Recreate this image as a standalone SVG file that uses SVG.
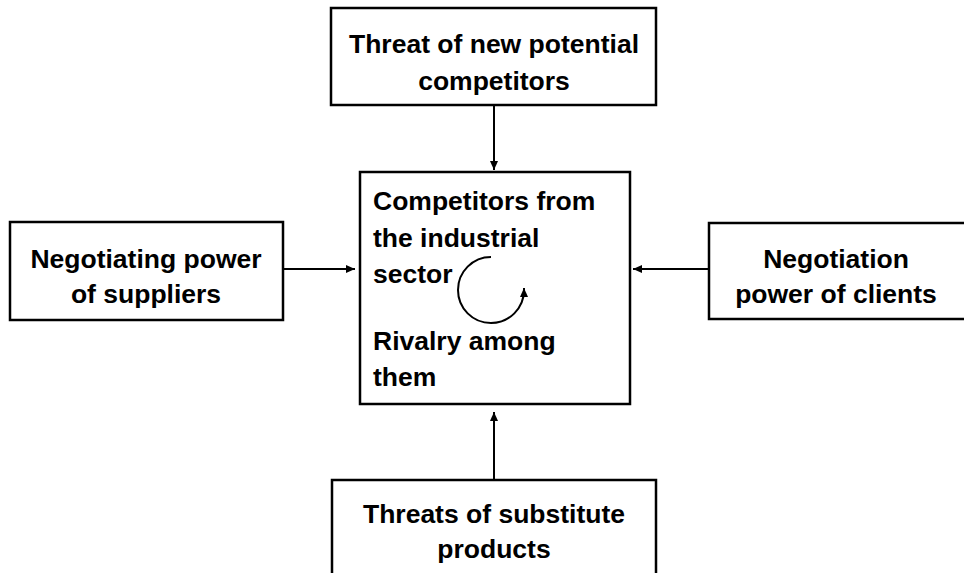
<svg xmlns="http://www.w3.org/2000/svg" width="964" height="573" viewBox="0 0 964 573">
  <style>
    .box { fill: #ffffff; stroke: #000000; stroke-width: 2.5; }
    .lbl { font-family: "Liberation Sans", Arial, sans-serif; font-weight: bold; font-size: 26.5px; fill: #000000; }
    .mid { text-anchor: middle; }
    .conn { stroke: #000000; stroke-width: 2; fill: none; }
  </style>
  <defs>
    <marker id="arrow" viewBox="0 0 10 10" refX="10" refY="5" markerWidth="9" markerHeight="8" markerUnits="userSpaceOnUse" orient="auto" preserveAspectRatio="none">
      <path d="M0,0 L10,5 L0,10 z" fill="#000000"/>
    </marker>
  </defs>
  <rect width="964" height="573" fill="#ffffff"/>

  <!-- straight connectors from the four outer forces to the centre box -->
  <g id="connectors">
    <line class="conn" x1="494" y1="105" x2="494" y2="170" marker-end="url(#arrow)"/>
    <line class="conn" x1="283" y1="269" x2="355" y2="269" marker-end="url(#arrow)"/>
    <line class="conn" x1="709" y1="269" x2="633" y2="269" marker-end="url(#arrow)"/>
    <line class="conn" x1="494" y1="480" x2="494" y2="412" marker-end="url(#arrow)"/>
  </g>

  <g id="new-entrants">
    <rect class="box" x="331" y="8" width="325" height="97"/>
    <text class="lbl mid" x="494" y="53">Threat of new potential</text>
    <text class="lbl mid" x="494" y="90">competitors</text>
  </g>

  <g id="industry-rivalry">
    <rect class="box" x="360" y="172" width="270" height="232"/>
    <text class="lbl" x="373" y="210">Competitors from</text>
    <text class="lbl" x="373" y="247">the industrial</text>
    <text class="lbl" x="373" y="283">sector</text>
    <text class="lbl" x="373" y="350">Rivalry among</text>
    <text class="lbl" x="373" y="386">them</text>
    <!-- circular rivalry arrow -->
    <path class="conn" d="M 491 257 A 33 33 0 1 0 524 290 L 524 288" marker-end="url(#arrow)"/>
  </g>

  <g id="suppliers">
    <rect class="box" x="10" y="222" width="273" height="98"/>
    <text class="lbl mid" x="146" y="268">Negotiating power</text>
    <text class="lbl mid" x="146" y="303">of suppliers</text>
  </g>

  <g id="clients">
    <rect class="box" x="709" y="223" width="262" height="96"/>
    <text class="lbl mid" x="836" y="268">Negotiation</text>
    <text class="lbl mid" x="836" y="303">power of clients</text>
  </g>

  <g id="substitutes">
    <rect class="box" x="332" y="480" width="324" height="110"/>
    <text class="lbl mid" x="494" y="523">Threats of substitute</text>
    <text class="lbl mid" x="494" y="558">products</text>
  </g>
</svg>
